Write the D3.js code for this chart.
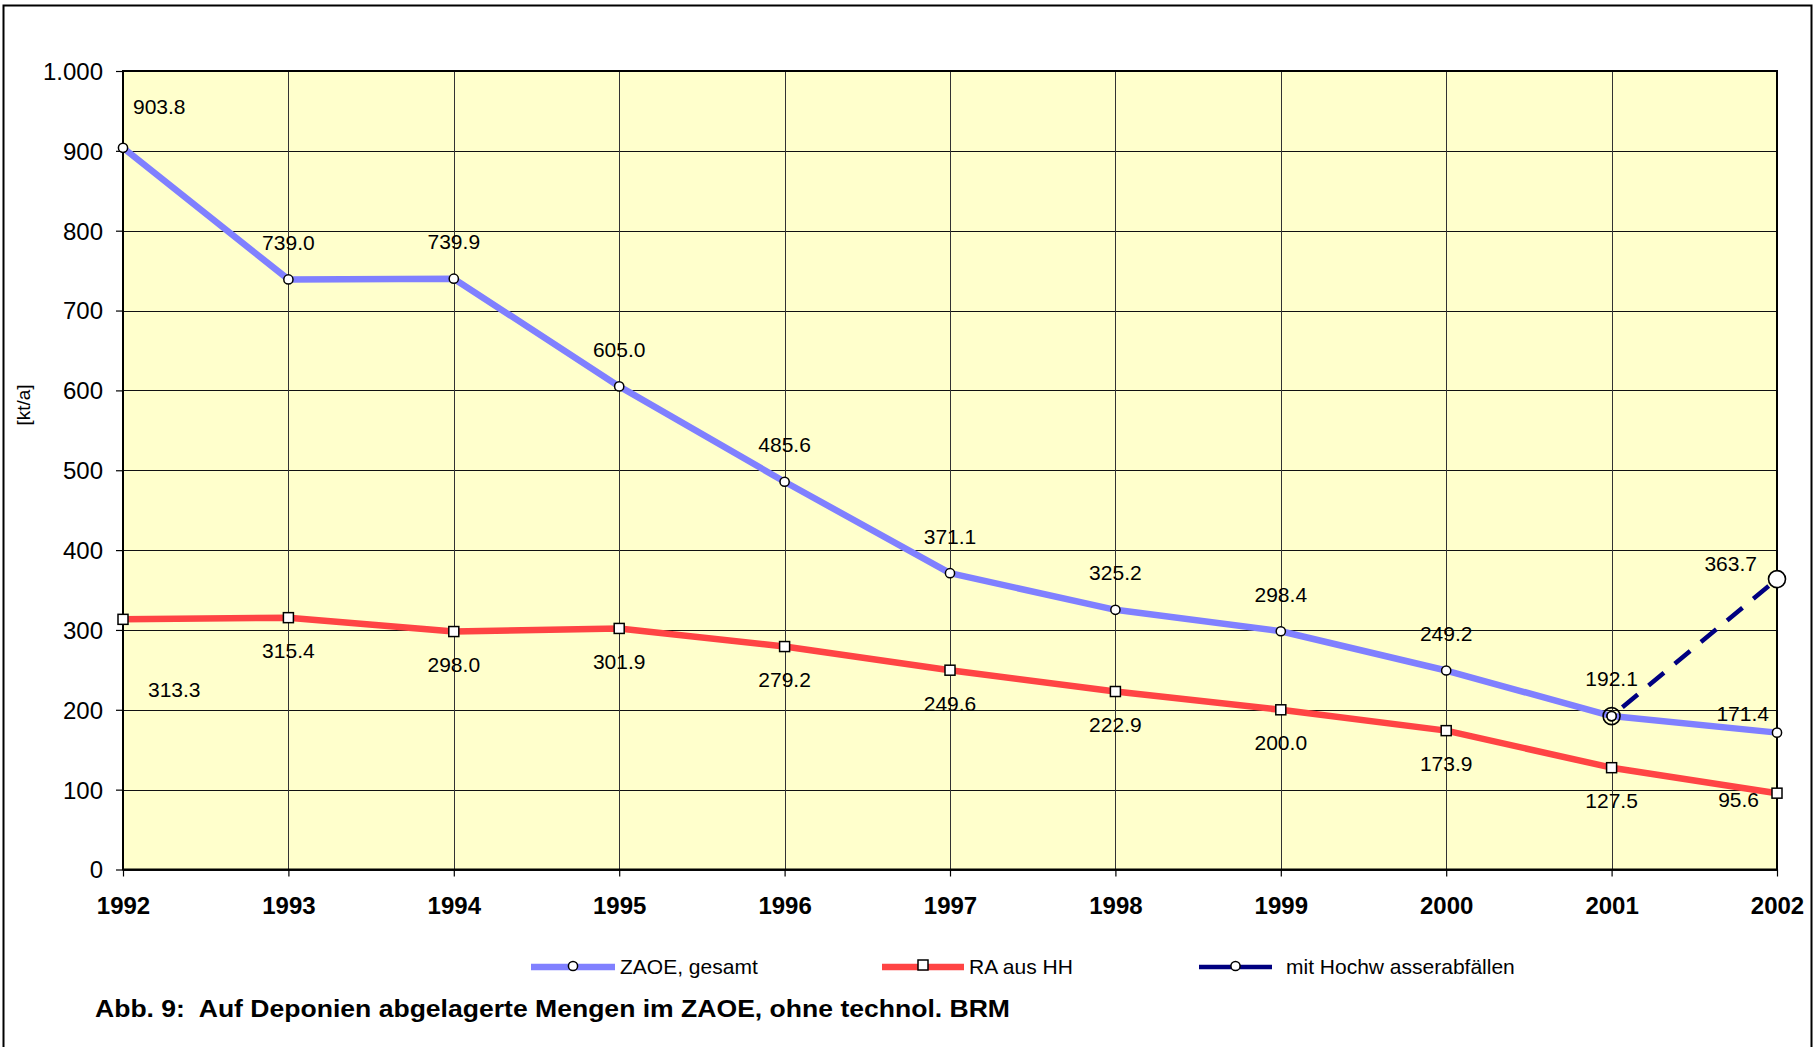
<!DOCTYPE html>
<html>
<head>
<meta charset="utf-8">
<script src="https://cdn.jsdelivr.net/npm/d3@7"></script>
<style>
  html, body { margin: 0; padding: 0; background: #fff; }
  svg { display: block; }
  text { font-family: "Liberation Sans", Arial, sans-serif; fill: #000; white-space: pre; }
</style>
</head>
<body>
<svg id="chart" width="1815" height="1047"></svg>
<script>
// ---- data ----
const years = [1992, 1993, 1994, 1995, 1996, 1997, 1998, 1999, 2000, 2001, 2002];
const zaoeGesamt = [903.8, 739.0, 739.9, 605.0, 485.6, 371.1, 325.2, 298.4, 249.2, 192.1, 171.4];
const raAusHH = [313.3, 315.4, 298.0, 301.9, 279.2, 249.6, 222.9, 200.0, 173.9, 127.5, 95.6];
const hwYears = [2001, 2002];
const mitHochwasser = [192.1, 363.7];
const yTicks = [0, 100, 200, 300, 400, 500, 600, 700, 800, 900, 1000];
const yTickLabels = ["0", "100", "200", "300", "400", "500", "600", "700", "800", "900", "1.000"];
const seriesNames = ["ZAOE, gesamt", "RA aus HH", "mit Hochw asserabfällen"];
const yAxisTitle = "[kt/a]";
const caption = "Abb. 9:  Auf Deponien abgelagerte Mengen im ZAOE, ohne technol. BRM";

// ---- layout ----
const svg = d3.select("#chart");
const L = 123, R = 1777, T = 71, B = 869.5;
const x = d3.scaleLinear().domain([1992, 2002]).range([L, R]);
const y = d3.scaleLinear().domain([0, 1000]).range([B, T]);
const fmt = d3.format(".1f");
const cBlue = "#8080ff", cRed = "#ff4444", cNavy = "#000080";

// outer frame
svg.append("rect").attr("x", 3.5).attr("y", 5.5).attr("width", 1808).attr("height", 1060)
  .attr("fill", "none").attr("stroke", "#000").attr("stroke-width", 2);

// plot background
svg.append("rect").attr("x", L).attr("y", T).attr("width", R - L).attr("height", B - T)
  .attr("fill", "#ffffcc");

// grid
const grid = svg.append("g");
grid.selectAll("line.h").data(yTicks).join("line")
  .attr("x1", L).attr("x2", R).attr("y1", d => Math.round(y(d)) + 0.5).attr("y2", d => Math.round(y(d)) + 0.5)
  .attr("stroke", "#111").attr("stroke-width", 1);
grid.selectAll("line.v").data(years).join("line")
  .attr("y1", T).attr("y2", B).attr("x1", d => Math.round(x(d)) + 0.5).attr("x2", d => Math.round(x(d)) + 0.5)
  .attr("stroke", "#333").attr("stroke-width", 1);

// plot border
svg.append("rect").attr("x", L).attr("y", T).attr("width", R - L).attr("height", B - T)
  .attr("fill", "none").attr("stroke", "#000").attr("stroke-width", 2);

// y axis
const yAxis = d3.axisLeft(y).tickValues(yTicks).tickSize(7).tickPadding(13)
  .tickFormat((d, i) => yTickLabels[i]);
const gy = svg.append("g").attr("transform", `translate(${L},0)`).call(yAxis);
gy.select(".domain").remove();
gy.selectAll(".tick line").attr("stroke", "#000").attr("stroke-width", 1.2);
gy.selectAll(".tick text").attr("font-size", 24).attr("font-family", "Liberation Sans, Arial, sans-serif")
  .attr("fill", "#000").attr("dy", "0.35em");

// x axis
const xAxis = d3.axisBottom(x).tickValues(years).tickSize(7).tickPadding(20).tickFormat(d3.format("d"));
const gx = svg.append("g").attr("transform", `translate(0,${B})`).call(xAxis);
gx.select(".domain").remove();
gx.selectAll(".tick line").attr("stroke", "#000").attr("stroke-width", 1.2);
gx.selectAll(".tick text").attr("font-size", 24).attr("font-weight", "bold")
  .attr("font-family", "Liberation Sans, Arial, sans-serif").attr("fill", "#000").attr("dy", "0.71em");

// y title
svg.append("text").attr("transform", "translate(30,405) rotate(-90)")
  .attr("text-anchor", "middle").attr("font-size", 19).text(yAxisTitle);

// lines
const line = d3.line().x(d => x(d[0])).y(d => y(d[1]));
const zaoePts = years.map((yr, i) => [yr, zaoeGesamt[i]]);
const raPts = years.map((yr, i) => [yr, raAusHH[i]]);
const hwPts = hwYears.map((yr, i) => [yr, mitHochwasser[i]]);

svg.append("path").attr("d", line(raPts)).attr("fill", "none").attr("stroke", cRed)
  .attr("stroke-width", 6.5).attr("stroke-linejoin", "round");
svg.append("path").attr("d", line(zaoePts)).attr("fill", "none").attr("stroke", cBlue)
  .attr("stroke-width", 6.5).attr("stroke-linejoin", "round");
svg.append("path").attr("d", line(hwPts)).attr("fill", "none").attr("stroke", cNavy)
  .attr("stroke-width", 4.5).attr("stroke-dasharray", "20,14").attr("stroke-dashoffset", -14);

// markers
svg.append("g").selectAll("rect").data(raPts).join("rect")
  .attr("x", d => x(d[0]) - 5).attr("y", d => y(d[1]) - 5).attr("width", 10).attr("height", 10)
  .attr("fill", "#fff").attr("stroke", "#000").attr("stroke-width", 1.5);
svg.append("g").selectAll("circle").data(zaoePts).join("circle")
  .attr("cx", d => x(d[0])).attr("cy", d => y(d[1])).attr("r", 4.6)
  .attr("fill", "#fff").attr("stroke", "#000").attr("stroke-width", 1.5);
svg.append("g").selectAll("circle").data(hwPts).join("circle")
  .attr("cx", d => x(d[0])).attr("cy", d => y(d[1])).attr("r", 8.5)
  .attr("fill", (d, i) => i === 0 ? "none" : "#fff").attr("stroke", "#000").attr("stroke-width", 1.6);
svg.append("circle").attr("cx", x(hwPts[0][0])).attr("cy", y(hwPts[0][1])).attr("r", 4.6)
  .attr("fill", "#fff").attr("stroke", "#000").attr("stroke-width", 1.5);

// data labels
const lblSize = 21;
const last = years.length - 1;
svg.append("g").selectAll("text").data(zaoePts).join("text")
  .attr("font-size", lblSize)
  .attr("text-anchor", (d, i) => i === 0 ? "start" : i === last ? "end" : "middle")
  .attr("x", (d, i) => i === 0 ? x(d[0]) + 10 : i === last ? x(d[0]) - 8 : x(d[0]))
  .attr("y", (d, i) => i === 0 ? y(d[1]) - 41 : i === last ? y(d[1]) - 19 : y(d[1]) - 37)
  .attr("dy", "0.35em")
  .text(d => fmt(d[1]));
svg.append("g").selectAll("text").data(raPts).join("text")
  .attr("font-size", lblSize)
  .attr("text-anchor", (d, i) => i === 0 ? "start" : i === last ? "end" : "middle")
  .attr("x", (d, i) => i === 0 ? x(d[0]) + 25 : i === last ? x(d[0]) - 18 : x(d[0]))
  .attr("y", (d, i) => i === 0 ? y(d[1]) + 70 : i === last ? y(d[1]) + 6 : y(d[1]) + 33)
  .attr("dy", "0.35em")
  .text(d => fmt(d[1]));
svg.append("text").attr("font-size", lblSize).attr("text-anchor", "end")
  .attr("x", x(hwPts[1][0]) - 20).attr("y", y(hwPts[1][1]) - 15).attr("dy", "0.35em")
  .text(fmt(hwPts[1][1]));

// legend
const legY = 967;
const legItems = [
  { name: seriesNames[0], x0: 531, x1: 615, color: cBlue, w: 6.5, mark: "circle", tx: 620 },
  { name: seriesNames[1], x0: 882, x1: 964, color: cRed, w: 6.5, mark: "square", tx: 969 },
  { name: seriesNames[2], x0: 1199, x1: 1272, color: cNavy, w: 4.5, mark: "circle", tx: 1286 }
];
const leg = svg.append("g");
legItems.forEach(it => {
  leg.append("line").attr("x1", it.x0).attr("x2", it.x1).attr("y1", legY).attr("y2", legY)
    .attr("stroke", it.color).attr("stroke-width", it.w);
  const cx = (it.x0 + it.x1) / 2;
  if (it.mark === "circle") {
    leg.append("circle").attr("cx", cx).attr("cy", legY - 1).attr("r", 4.6)
      .attr("fill", "#fff").attr("stroke", "#000").attr("stroke-width", 1.5);
  } else {
    leg.append("rect").attr("x", cx - 5).attr("y", legY - 7).attr("width", 10).attr("height", 10)
      .attr("fill", "#fff").attr("stroke", "#000").attr("stroke-width", 1.5);
  }
  leg.append("text").attr("x", it.tx).attr("y", legY).attr("dy", "0.35em")
    .attr("font-size", 21).text(it.name);
});

// caption
svg.append("text").attr("x", 95).attr("y", 1009).attr("dy", "0.35em")
  .attr("font-size", 23).attr("font-weight", "bold")
  .attr("textLength", 915).attr("lengthAdjust", "spacingAndGlyphs")
  .text(caption);
</script>
</body>
</html>
